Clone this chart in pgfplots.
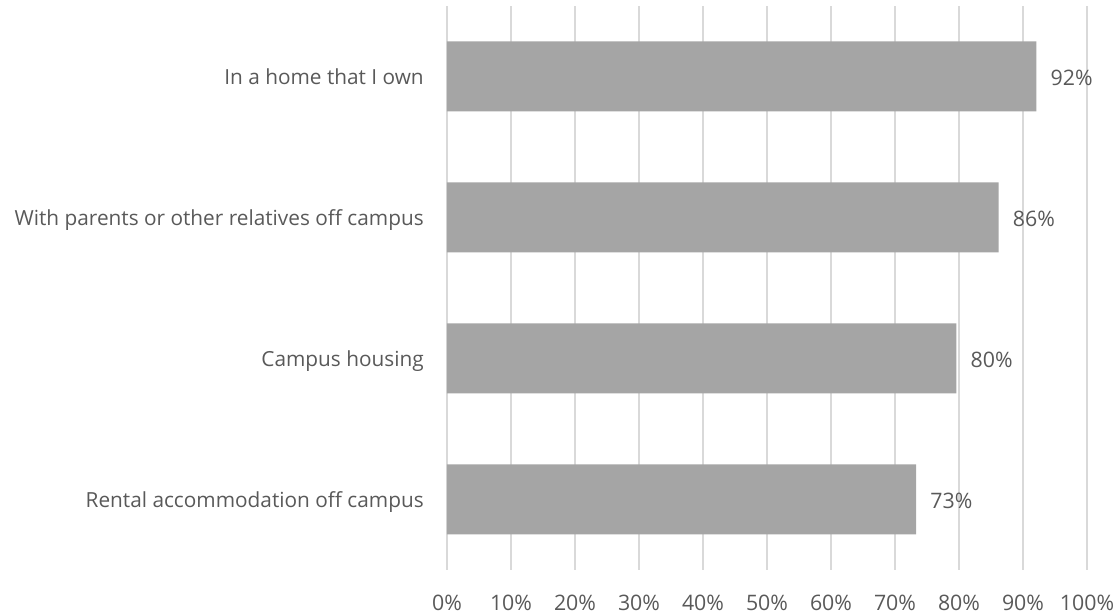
\documentclass[border=0pt]{standalone}
\usepackage{pgfplots}
\pgfplotsset{compat=1.18}
\usepackage{fontspec}
\setmainfont{Open Sans}
\definecolor{bargray}{HTML}{A5A5A5}
\definecolor{txtgray}{HTML}{595959}
\definecolor{gridgray}{HTML}{D9D9D9}
\begin{document}
\begin{tikzpicture}[x=1pt,y=1pt]
\begin{axis}[
  at={(0,0)}, anchor=south west,
  scale only axis,
  width=480pt, height=423pt,
  xbar, bar width=52.5pt,
  xmin=0, xmax=100,
  ymin=-0.5, ymax=3.5,
  xtick={0,10,...,100},
  xticklabel={\pgfmathprintnumber{\tick}\%},
  ytick={0,1,2,3},
  yticklabels={Rental accommodation off campus, Campus housing, With parents or other relatives off campus, In a home that I own},
  xmajorgrids, major grid style={gridgray, line width=1.1pt},
  axis line style={draw=none},
  major tick length=0pt,
  tick label style={text=txtgray},
  xticklabel style={font=\fontsize{16}{18}\selectfont, anchor=center, inner sep=0pt, text depth=0pt, yshift=-24.75pt},
  yticklabel style={font=\fontsize{15.6}{18}\selectfont, anchor=east, inner sep=0pt, text depth=0pt, xshift=-17.25pt},
  /pgf/number format/assume math mode=true,
  nodes near coords={\pgfplotspointmeta},
  point meta=explicit symbolic,
  nodes near coords style={font=\fontsize{16}{18}\selectfont, text=txtgray, anchor=west, inner sep=0pt, text depth=0pt, xshift=10.5pt, yshift=-1pt},
  clip=false,
]
\addplot[fill=bargray, draw=none] coordinates {
  (73.3,0) [73\%]
  (79.6,1) [80\%]
  (86.2,2) [86\%]
  (92.1,3) [92\%]
};
\end{axis}
\pgfresetboundingbox
\path[use as bounding box] (-335.25pt,-34.5pt) rectangle (504.75pt,427.5pt);
\end{tikzpicture}
\end{document}
